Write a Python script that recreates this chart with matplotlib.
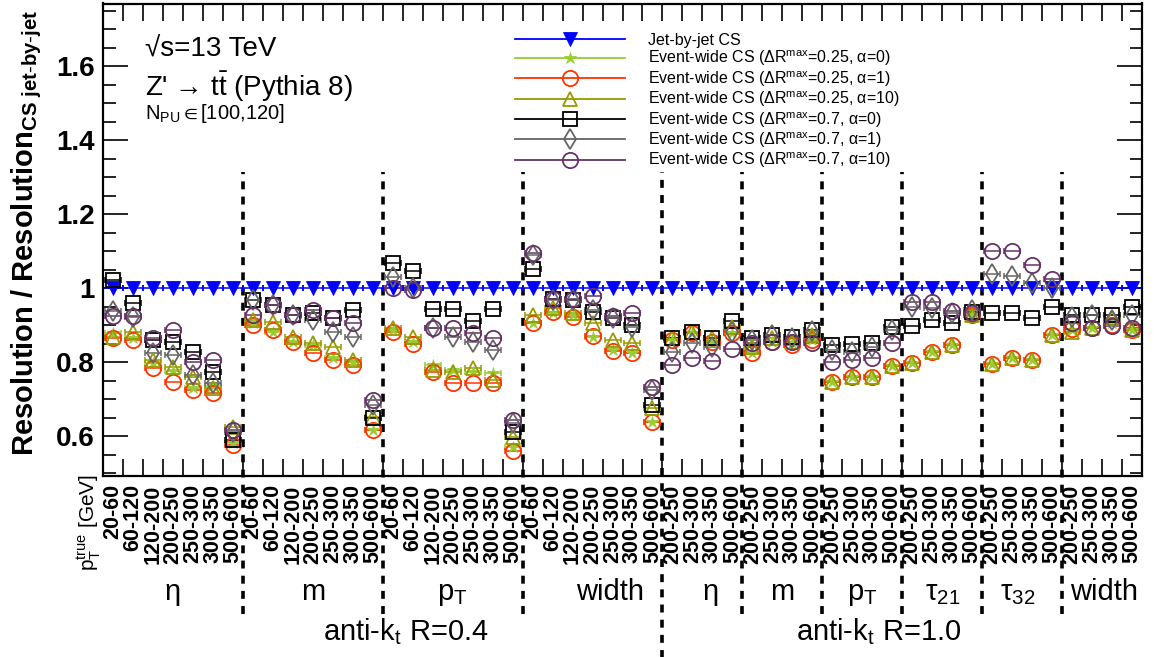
import numpy as np
import matplotlib
matplotlib.use("Agg")
import matplotlib.pyplot as plt
from matplotlib.lines import Line2D

plt.rcParams['font.family'] = ['Liberation Sans', 'DejaVu Sans']
plt.rcParams['mathtext.fontset'] = 'custom'
plt.rcParams['mathtext.rm'] = 'Liberation Sans'
plt.rcParams['mathtext.it'] = 'Liberation Sans'
plt.rcParams['mathtext.bf'] = 'Liberation Sans:bold'
plt.rcParams['mathtext.fallback'] = 'stixsans'

# ---------------- data ----------------
bins_r04 = ["20-60", "60-120", "120-200", "200-250", "250-300", "300-350", "500-600"]
bins_r10 = ["200-250", "250-300", "300-350", "500-600"]
groups_r04 = ["η", "m", "p$_{\\rm T}$", "width"]
groups_r10 = ["η", "m", "p$_{\\rm T}$", "τ$_{21}$", "τ$_{32}$", "width"]

tick_labels = bins_r04 * len(groups_r04) + bins_r10 * len(groups_r10)

jet_by_jet = [1.0] * 52

ew025_a0 = [0.878, 0.865, 0.797, 0.775, 0.730, 0.735, 0.581,
            0.905, 0.882, 0.855, 0.845, 0.811, 0.800, 0.616,
            0.886, 0.855, 0.792, 0.778, 0.774, 0.770, 0.571,
            0.905, 0.932, 0.927, 0.868, 0.832, 0.825, 0.637,
            0.860, 0.878, 0.855, 0.878,
            0.825, 0.855, 0.851, 0.861,
            0.747, 0.760, 0.760, 0.790,
            0.798, 0.828, 0.846, 0.927,
            0.796, 0.810, 0.807, 0.873,
            0.886, 0.891, 0.906, 0.886]

ew025_a1 = [0.866, 0.859, 0.784, 0.747, 0.724, 0.716, 0.576,
            0.900, 0.886, 0.855, 0.824, 0.805, 0.792, 0.616,
            0.882, 0.849, 0.774, 0.744, 0.744, 0.744, 0.560,
            0.905, 0.936, 0.923, 0.870, 0.830, 0.824, 0.639,
            0.860, 0.878, 0.855, 0.878,
            0.825, 0.855, 0.846, 0.860,
            0.747, 0.760, 0.760, 0.790,
            0.798, 0.828, 0.846, 0.927,
            0.796, 0.810, 0.807, 0.873,
            0.890, 0.891, 0.900, 0.886]

ew025_a10 = [0.868, 0.882, 0.805, 0.787, 0.760, 0.730, 0.625,
             0.914, 0.909, 0.868, 0.851, 0.841, 0.805, 0.652,
             0.892, 0.868, 0.778, 0.774, 0.784, 0.751, 0.598,
             0.927, 0.946, 0.932, 0.905, 0.859, 0.851, 0.676,
             0.865, 0.882, 0.865, 0.895,
             0.841, 0.865, 0.855, 0.873,
             0.747, 0.760, 0.760, 0.790,
             0.798, 0.828, 0.846, 0.927,
             0.796, 0.810, 0.807, 0.873,
             0.882, 0.891, 0.918, 0.886]

ew07_a0 = [1.022, 0.959, 0.859, 0.855, 0.828, 0.774, 0.589,
           0.968, 0.954, 0.927, 0.932, 0.918, 0.941, 0.648,
           1.068, 1.047, 0.943, 0.943, 0.912, 0.945, 0.612,
           1.053, 0.970, 0.968, 0.936, 0.920, 0.900, 0.684,
           0.865, 0.882, 0.865, 0.912,
           0.865, 0.873, 0.868, 0.886,
           0.846, 0.849, 0.852, 0.894,
           0.897, 0.914, 0.906, 0.936,
           0.933, 0.932, 0.918, 0.950,
           0.927, 0.927, 0.927, 0.948]

ew07_a1 = [0.938, 0.922, 0.824, 0.819, 0.765, 0.743, 0.612,
           0.968, 0.954, 0.927, 0.914, 0.882, 0.868, 0.684,
           1.031, 1.000, 0.892, 0.868, 0.855, 0.832, 0.636,
           1.090, 0.968, 0.968, 0.940, 0.918, 0.895, 0.725,
           0.828, 0.851, 0.841, 0.882,
           0.860, 0.873, 0.865, 0.885,
           0.832, 0.828, 0.841, 0.886,
           0.948, 0.946, 0.932, 0.940,
           1.038, 1.032, 1.013, 1.000,
           0.923, 0.927, 0.914, 0.927]

ew07_a10 = [0.924, 0.924, 0.865, 0.886, 0.801, 0.805, 0.616,
            0.927, 0.954, 0.927, 0.941, 0.918, 0.905, 0.697,
            1.000, 0.995, 0.892, 0.892, 0.878, 0.865, 0.643,
            1.095, 0.970, 0.970, 0.978, 0.924, 0.932, 0.733,
            0.792, 0.811, 0.803, 0.835,
            0.851, 0.855, 0.855, 0.852,
            0.801, 0.807, 0.812, 0.852,
            0.963, 0.963, 0.939, 0.932,
            1.101, 1.101, 1.062, 1.026,
            0.905, 0.891, 0.897, 0.891]

series_labels = [
    "Jet-by-jet CS",
    "Event-wide CS (ΔR$^{\\rm max}$=0.25, α=0)",
    "Event-wide CS (ΔR$^{\\rm max}$=0.25, α=1)",
    "Event-wide CS (ΔR$^{\\rm max}$=0.25, α=10)",
    "Event-wide CS (ΔR$^{\\rm max}$=0.7, α=0)",
    "Event-wide CS (ΔR$^{\\rm max}$=0.7, α=1)",
    "Event-wide CS (ΔR$^{\\rm max}$=0.7, α=10)",
]
series_values = [jet_by_jet, ew025_a0, ew025_a1, ew025_a10, ew07_a0, ew07_a1, ew07_a10]
colors = ["#0000ff", "#99cc33", "#ff3300", "#999900", "#000000", "#666666", "#663366"]
markers = ["v", "*", "o", "^", "s", "d", "o"]
msizes = [10, 9, 11, 10, 10.5, 10, 11]
filled = [True, True, False, False, False, False, False]
xerrs = [0.5, 0.4, 0.4, 0.4, 0.4, 0.4, 0.4]

# ---------------- figure ----------------
W, H = 1158, 657
fig = plt.figure(figsize=(W / 100, H / 100), dpi=100)
ax_l, ax_r, ax_t, ax_b = 103, 1142, 3.5, 476
ax = fig.add_axes([ax_l / W, 1 - ax_b / H, (ax_r - ax_l) / W, (ax_b - ax_t) / H])

n = len(tick_labels)
x = np.arange(n)

handles = []
for vals, lab, c, m, ms, f, xe in zip(series_values, series_labels, colors, markers,
                                       msizes, filled, xerrs):
    ax.errorbar(x, vals, xerr=xe, fmt='none', ecolor=c, elinewidth=1.1,
                capsize=2.5, capthick=1.1, zorder=2)
    ax.plot(x, vals, linestyle='none', marker=m, markersize=ms,
            markerfacecolor=(c if f else 'none'), markeredgecolor=c,
            markeredgewidth=(0.6 if f else 1.3), zorder=3)
    handles.append(Line2D([], [], color=c, lw=1.3, marker=m, markersize=ms,
                          markerfacecolor=(c if f else 'none'), markeredgecolor=c,
                          markeredgewidth=(0.6 if f else 1.3), label=lab))

ax.set_xlim(-0.5, n - 0.5)
ax.set_ylim(0.492, 1.77)

# x ticks
ax.set_xticks(x)
ax.set_xticklabels(tick_labels, rotation=90, fontsize=15.5, fontweight='bold',
                   va='top', ha='center')
ax.set_xticks(np.arange(n + 1) - 0.5, minor=True)
ax.tick_params(axis='x', which='major', length=0, pad=6)
ax.tick_params(axis='x', which='minor', direction='in', length=12, width=1.2,
               top=True, bottom=True)

# y ticks
ax.set_yticks([0.6, 0.8, 1.0, 1.2, 1.4, 1.6])
ax.set_yticklabels(["0.6", "0.8", "1", "1.2", "1.4", "1.6"], fontsize=20,
                   fontweight='bold')
ax.set_yticks(np.arange(0.5, 1.76, 0.05), minor=True)
ax.tick_params(axis='y', which='major', direction='in', length=18, width=1.2,
               left=True, right=True, pad=6)
ax.tick_params(axis='y', which='minor', direction='in', length=9, width=1.2,
               left=True, right=True)
for s in ax.spines.values():
    s.set_linewidth(1.6)

# dashed separators
sep_idx = [7, 14, 21, 28, 32, 36, 40, 44, 48]
ytop = (ax_b - 172) / (ax_b - ax_t)
for b in sep_idx:
    ybot = (ax_b - 660) / (ax_b - ax_t) if b == 28 else (ax_b - 614) / (ax_b - ax_t)
    ln = Line2D([b - 0.5, b - 0.5], [ybot, ytop], transform=ax.get_xaxis_transform(),
                color='black', lw=2.6, linestyle=(0, (2.2, 2.0)), clip_on=False, zorder=1)
    ax.add_line(ln)

# group labels
grp_r04_x = [3, 10, 17, 24.9]
grp_r10_x = [28 + 1.9, 32 + 1.5, 36 + 1.5, 40 + 1.5, 44 + 1.3, 48 + 1.6]
for gx, gl in zip(grp_r04_x + grp_r10_x, groups_r04 + groups_r10):
    ax.text(gx, (ax_b - 600) / (ax_b - ax_t), gl, transform=ax.get_xaxis_transform(),
            ha='center', va='baseline', fontsize=21)
ax.text(14.65, (ax_b - 640) / (ax_b - ax_t), "anti-k$_{\\rm t}$ R=0.4",
        transform=ax.get_xaxis_transform(), ha='center', va='baseline', fontsize=21)
ax.text(38.3, (ax_b - 640) / (ax_b - ax_t), "anti-k$_{\\rm t}$ R=1.0",
        transform=ax.get_xaxis_transform(), ha='center', va='baseline', fontsize=21)

# axis titles
fig.text(27 / W, 1 - 233 / H,
         "$\\mathbf{Resolution\\ /\\ Resolution}_{\\mathbf{CS\\ jet\\text{-}by\\text{-}jet}}$",
         rotation=90, ha='center', va='center', fontsize=21)
fig.text(88 / W, 1 - 522 / H, "p$_{\\rm T}^{\\rm true}$ [GeV]", rotation=90,
         ha='center', va='center', fontsize=15)

# annotations
fig.text(145 / W, 1 - 57 / H, "√s=13 TeV", ha='left', va='baseline', fontsize=20)
fig.text(145 / W, 1 - 96 / H, "Z' → t$\\bar{\\rm t}$ (Pythia 8)",
         ha='left', va='baseline', fontsize=20)
fig.text(145 / W, 1 - 119 / H, "N$_{\\rm PU}\\in$[100,120]", ha='left',
         va='baseline', fontsize=14.5)

leg = ax.legend(handles=handles, loc='upper left',
                bbox_to_anchor=((515 - ax_l) / (ax_r - ax_l), (ax_b - 33) / (ax_b - ax_t)),
                frameon=False, fontsize=11.5, handlelength=6.9, handletextpad=1.4,
                labelspacing=0.05, borderpad=0, borderaxespad=0)

fig.savefig("out.png", dpi=100)
